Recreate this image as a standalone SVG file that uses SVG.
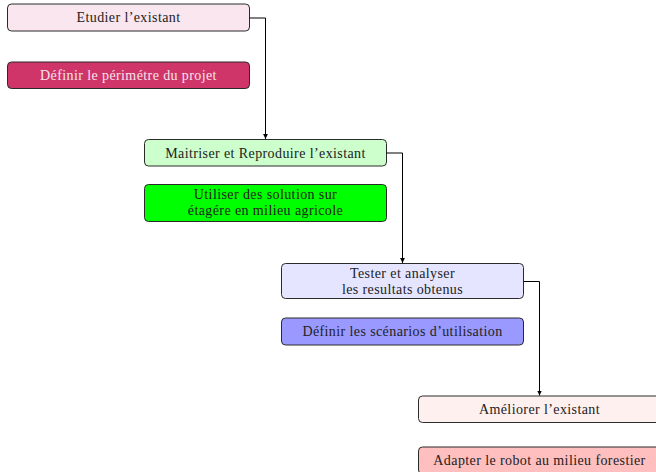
<svg xmlns="http://www.w3.org/2000/svg" width="656" height="472" viewBox="0 0 656 472">
<defs>
<marker id="ah" markerWidth="6" markerHeight="6" refX="5" refY="3" orient="auto" markerUnits="userSpaceOnUse">
<path d="M0,0.6 L5,3 L0,5.4 Z" fill="#000"/>
</marker>
<style>
.b{stroke:#2a2a2a;stroke-width:1}
.t{font-family:"Liberation Serif","DejaVu Serif",serif;font-size:14px;letter-spacing:0.4px;fill:#222;text-anchor:middle}
.c{fill:none;stroke:#000;stroke-width:1}
</style>
</defs>
<rect width="656" height="472" fill="#fff"/>
<g id="n1"><rect class="b" x="7.5" y="4" width="242" height="27" rx="4" fill="#f9e6ee"/><text class="t" x="128.5" y="22">Etudier l’existant</text></g>
<g id="n2"><rect class="b" x="7.5" y="62" width="242" height="26.5" rx="4" fill="#cf3568"/><text class="t" x="128.5" y="79.5" style="fill:#f6e4ec">Définir le périmétre du projet</text></g>
<g id="n3"><rect class="b" x="144.5" y="139.5" width="242" height="26.5" rx="4" fill="#ccffcc"/><text class="t" x="265.5" y="157.5">Maitriser et Reproduire l’existant</text></g>
<g id="n4"><rect class="b" x="144.5" y="184.5" width="242" height="37" rx="4" fill="#00ff00"/><text class="t" x="265.5" y="198.5">Utiliser des solution sur</text><text class="t" x="265.5" y="214.5">étagére en milieu agricole</text></g>
<g id="n5"><rect class="b" x="281.5" y="263.5" width="242" height="35" rx="4" fill="#e5e5ff"/><text class="t" x="402.5" y="277.5">Tester et analyser</text><text class="t" x="402.5" y="293.5">les resultats obtenus</text></g>
<g id="n6"><rect class="b" x="281.5" y="318" width="242" height="27" rx="4" fill="#9999ff"/><text class="t" x="402.5" y="336">Définir les scénarios d’utilisation</text></g>
<g id="n7"><rect class="b" x="418.5" y="396" width="242" height="26.5" rx="4" fill="#fff0f0"/><text class="t" x="539.5" y="414">Améliorer l’existant</text></g>
<g id="n8"><rect class="b" x="418.5" y="447" width="242" height="27" rx="4" fill="#ffbfbf"/><text class="t" x="539.5" y="465">Adapter le robot au milieu forestier</text></g>
<g id="connectors">
<path class="c" d="M249.5,18 H265.5 V139" marker-end="url(#ah)"/>
<path class="c" d="M386.5,153 H402.5 V263" marker-end="url(#ah)"/>
<path class="c" d="M523.5,281.5 H539.5 V395.5" marker-end="url(#ah)"/>
</g>
</svg>
